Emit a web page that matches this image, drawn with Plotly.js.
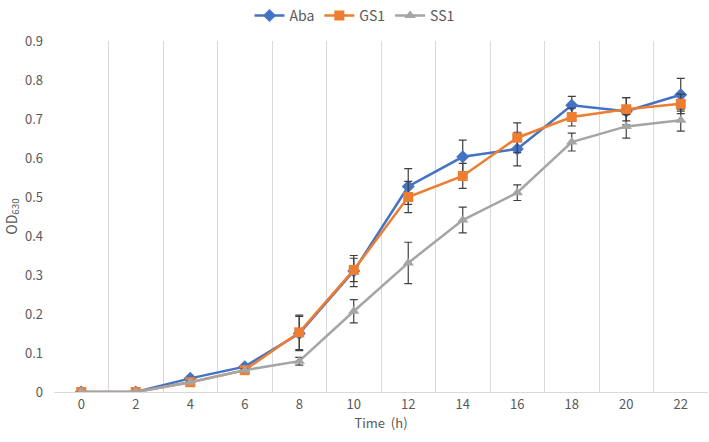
<!DOCTYPE html>
<html>
<head>
<meta charset="utf-8">
<script src="https://cdn.plot.ly/plotly-3.0.1.min.js"></script>
<style>html,body{margin:0;padding:0;background:#fff;}#chart{width:709px;height:442px;}</style>
</head>
<body>
<div id="chart"></div>
<script>
const timeLabels = ["0","2","4","6","8","10","12","14","16","18","20","22"];
const abaValues = [0, 0, 0.035, 0.065, 0.15, 0.31, 0.527, 0.603, 0.623, 0.735, 0.72, 0.762];
const abaErrors = [0, 0, 0.004, 0.005, 0.044, 0.04, 0.046, 0.043, 0.043, 0.023, 0.035, 0.042];
const gs1Values = [0, 0, 0.025, 0.056, 0.153, 0.313, 0.5, 0.554, 0.652, 0.705, 0.725, 0.739];
const gs1Errors = [0, 0, 0.004, 0.004, 0.044, 0.03, 0.04, 0.032, 0.038, 0.023, 0.03, 0.025];
const ss1Values = [0, 0, 0.025, 0.056, 0.079, 0.207, 0.331, 0.441, 0.511, 0.641, 0.681, 0.697];
const ss1Errors = [0, 0, 0.003, 0.004, 0.01, 0.03, 0.053, 0.033, 0.02, 0.023, 0.03, 0.028];
const seriesNames = ["Aba", "GS1", "SS1"];

const FONT = '"Noto Sans CJK SC", "Noto Sans", sans-serif';
const errStyle = {type: 'data', visible: true, color: '#404040', thickness: 1.2, width: 4};

const traces = [
  {x: timeLabels, y: abaValues, name: seriesNames[0], type: 'scatter', mode: 'lines+markers',
   line: {color: '#4472C4', width: 2.5}, marker: {symbol: 'diamond', size: 10, color: '#4472C4'},
   error_y: Object.assign({array: abaErrors}, errStyle)},
  {x: timeLabels, y: gs1Values, name: seriesNames[1], type: 'scatter', mode: 'lines+markers',
   line: {color: '#ED7D31', width: 2.5}, marker: {symbol: 'square', size: 10, color: '#ED7D31'},
   error_y: Object.assign({array: gs1Errors}, errStyle)},
  {x: timeLabels, y: ss1Values, name: seriesNames[2], type: 'scatter', mode: 'lines+markers',
   line: {color: '#A5A5A5', width: 2.5}, marker: {symbol: 'triangle-up', size: 10, color: '#A5A5A5'},
   error_y: Object.assign({array: ss1Errors}, errStyle)}
];

const layout = {
  width: 709, height: 442,
  margin: {l: 54, r: 1, t: 41, b: 50, autoexpand: false},
  paper_bgcolor: '#fff', plot_bgcolor: '#fff',
  font: {family: FONT, size: 13, color: '#595959'},
  showlegend: true,
  legend: {orientation: 'h', xref: 'container', x: 0.5, xanchor: 'center', yref: 'container', y: 1, yanchor: 'top',
           font: {family: FONT, size: 14, color: '#595959'}, tracegroupgap: 0},
  xaxis: {type: 'category', range: [-0.5, 11.5], tickson: 'boundaries', showgrid: true, gridcolor: '#d9d9d9', gridwidth: 1,
          showline: true, linecolor: '#d9d9d9', linewidth: 1, ticks: '', zeroline: false, automargin: false,
          tickfont: {family: FONT, size: 13, color: '#595959'},
          title: {text: 'Time  (h)', font: {family: FONT, size: 13, color: '#595959'}, standoff: 6}},
  yaxis: {range: [0, 0.9], dtick: 0.1, tick0: 0, showgrid: false, zeroline: false, showline: false, ticks: '',
          ticklabelstandoff: 10, automargin: false,
          tickfont: {family: FONT, size: 13, color: '#595959'},
          title: {text: 'OD<sub>630</sub>', font: {family: FONT, size: 14, color: '#595959'}, standoff: 4}}
};

Plotly.newPlot('chart', traces, layout, {displayModeBar: false, staticPlot: true});
</script>
</body>
</html>
